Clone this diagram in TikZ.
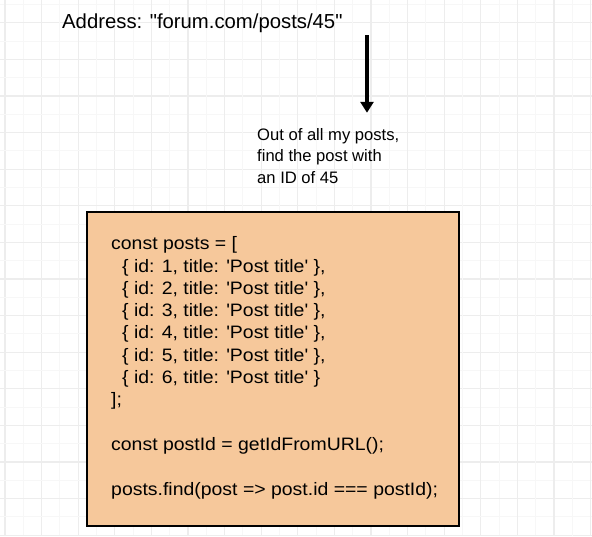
\documentclass[tikz,border=0pt]{standalone}
\usepackage{fontspec}
\setmainfont{Liberation Sans}[Ligatures=TeXOff]
\newfontfamily\codefont{Liberation Sans}[Ligatures=TeXOff, FakeStretch=1.08]
\usetikzlibrary{arrows.meta,positioning}
\definecolor{peach}{HTML}{F6C89B}
\definecolor{gridmajor}{HTML}{EDEDED}
\definecolor{gridminor}{HTML}{F7F7F7}

\begin{document}
\begin{tikzpicture}[x=1pt,y=-1pt,
  codebox/.style={draw=black, fill=peach, line width=1.5pt, minimum width=372pt, minimum height=314pt, inner sep=0pt},
  codetext/.style={anchor=base west, align=left, inner sep=0pt, font=\codefont\fontsize{18}{22.3}\selectfont},
  notetext/.style={anchor=base west, align=left, inner sep=0pt, font=\fontsize{16.6}{21.5}\selectfont}]
	\useasboundingbox[fill=white] (0,0) rectangle (592,536);
	% grid
	\foreach \i in {0,...,16} {
		\draw[gridminor, line width=1pt] ({23.3+36.6*\i},0) -- ++(0,536);
		\draw[gridminor, line width=1pt] (0,{4.5+36.6*\i}) -- ++(592,0);
		\draw[gridmajor, line width=1.2pt] ({5+36.6*\i},0) -- ++(0,536);
		\draw[gridmajor, line width=1.2pt] (0,{22.8+36.6*\i}) -- ++(592,0);
	}
	\node[anchor=base west, inner sep=0pt, font=\fontsize{20.3}{25}\selectfont] (address) at (62,28) {Address: "forum.com/posts/45"};
	% base of a multi-line node is its last line
	\node[notetext] (note) at (257,183) {Out of all my posts,\\find the post with\\an ID of 45};
	\coordinate (arrowtop) at (367,35);
	\draw[line width=3.2pt, -{Triangle[width=13pt,length=11pt]}] (arrowtop) -- ([yshift=15pt]arrowtop |- note.north);
	\node[codebox] (box) at (273,369) {};
	\node[codetext] (code) at (111,495) {const posts = [\\
		\hspace*{11pt}\{ id: 1, title: 'Post title' \},\\
		\hspace*{11pt}\{ id: 2, title: 'Post title' \},\\
		\hspace*{11pt}\{ id: 3, title: 'Post title' \},\\
		\hspace*{11pt}\{ id: 4, title: 'Post title' \},\\
		\hspace*{11pt}\{ id: 5, title: 'Post title' \},\\
		\hspace*{11pt}\{ id: 6, title: 'Post title' \}\\
		];\\
		\mbox{}\\
		const postId = getIdFromURL();\\
		\mbox{}\\
		posts.find(post => post.id === postId);};
\end{tikzpicture}
\end{document}
